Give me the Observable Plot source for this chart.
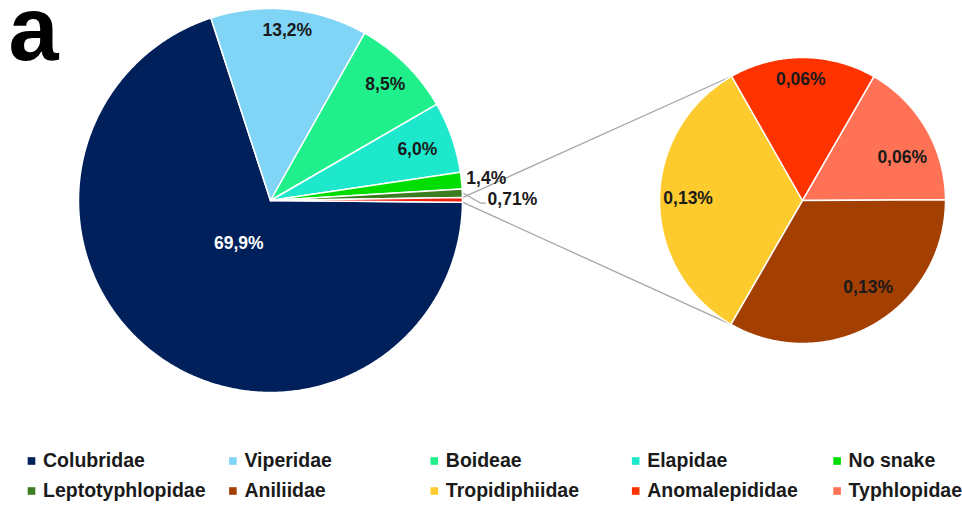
<!DOCTYPE html>
<html><head><meta charset="utf-8">
<script src="https://cdn.jsdelivr.net/npm/d3@7"></script>
<script src="https://cdn.jsdelivr.net/npm/@observablehq/plot@0.6"></script>
<style>body{margin:0;background:#fff;}</style>
</head><body><div id="chart"></div>
<script>
// ---- data ----
const mainNames = ["Colubridae","Viperidae","Boideae","Elapidae","No snake","Leptotyphlopidae","Other"];
const mainValues = [69.9, 13.2, 8.5, 6.0, 1.4, 0.71, 0.38];
const mainLabels = ["69,9%","13,2%","8,5%","6,0%","1,4%","0,71%",""];
const subNames = ["Tropidiphiidae","Anomalepididae","Typhlopidae","Aniliidae"];
const subValues = [0.127, 0.063, 0.063, 0.127];
const subLabels = ["0,13%","0,06%","0,06%","0,13%"];
const legendNames = ["Colubridae","Viperidae","Boideae","Elapidae","No snake",
  "Leptotyphlopidae","Aniliidae","Tropidiphiidae","Anomalepididae","Typhlopidae"];
const colorDomain = ["Colubridae","Viperidae","Boideae","Elapidae","No snake","Leptotyphlopidae",
  "Aniliidae","Tropidiphiidae","Anomalepididae","Typhlopidae","Other"];
const colorRange = ["#00205b","#80d4f6","#20f08c","#1ee8cc","#00dd00","#3c7d22",
  "#a33f00","#fecb2f","#ff3300","#ff7255","#f02010"];

// ---- layout ----
const W = 962, H = 506;
const M = {cx: 270, cy: 200, r: 192, start: 90.5};
const S = {cx: 802, cy: 200, r: 143, start: 210};
const mainLabelLayout = [[0.28,0],[0.89,0],[0.85,0],[0.81,0],[1.13,0],[1.26,1.8],[0,0]];
const subLabelLayout = [[0.80,1],[0.85,-1],[0.76,6.7],[0.76,-7]];
const rad = d => d * Math.PI / 180;
const px = (p, a, r) => p.cx + r * Math.sin(rad(a));
const py = (p, a, r) => p.cy - r * Math.cos(rad(a));

function slices(names, values, p) {
  const total = d3.sum(values);
  let a = p.start;
  return names.map((name, i) => {
    const span = values[i] / total * 360;
    const s = {name, i, a0: a, a1: a + span, mid: a + span / 2};
    a += span;
    return s;
  });
}
function polygons(sl, p) {
  const pts = [];
  for (const s of sl) {
    pts.push({name: s.name, x: p.cx, y: p.cy});
    const n = Math.max(2, Math.ceil((s.a1 - s.a0) / 0.5));
    for (let k = 0; k <= n; k++) {
      const a = s.a0 + (s.a1 - s.a0) * k / n;
      pts.push({name: s.name, x: px(p, a, p.r), y: py(p, a, p.r)});
    }
    pts.push({name: s.name, x: p.cx, y: p.cy});
  }
  return pts;
}
const mainSl = slices(mainNames, mainValues, M);
const subSl = slices(subNames, subValues, S);
const mainPts = polygons(mainSl, M);
const subPts = polygons(subSl, S);

const other = mainSl[6];
const connectors = [
  {x1: px(M, other.a0, M.r), y1: py(M, other.a0, M.r), x2: px(S, subSl[0].a1, S.r), y2: py(S, subSl[0].a1, S.r)},
  {x1: px(M, other.a1, M.r), y1: py(M, other.a1, M.r), x2: px(S, subSl[0].a0, S.r), y2: py(S, subSl[0].a0, S.r)}
];

const labels = [];
mainSl.forEach((s, i) => {
  if (!mainLabels[i]) return;
  const [f, da] = mainLabelLayout[i];
  labels.push({text: mainLabels[i], x: px(M, s.mid + da, M.r * f), y: py(M, s.mid + da, M.r * f),
    fill: i === 0 ? "#ffffff" : "#1a1a1a"});
});
subSl.forEach((s, i) => {
  const [f, da] = subLabelLayout[i];
  labels.push({text: subLabels[i], x: px(S, s.mid + da, S.r * f), y: py(S, s.mid + da, S.r * f), fill: "#1a1a1a"});
});
// leader for the 0,71% label
const lep = mainSl[5];
const lepLab = labels.find(d => d.text === "0,71%");
const leader = [
  {x: px(M, lep.mid, M.r + 1), y: py(M, lep.mid, M.r + 1)},
  {x: lepLab.x - 32, y: lepLab.y + 4},
  {x: lepLab.x - 27, y: lepLab.y + 4}
];

const legX = i => 31 + (i % 5) * 201.4;
const legY = i => 460.5 + Math.floor(i / 5) * 30;
const font = "Liberation Sans, Arial, sans-serif";

const chart = Plot.plot({
  width: W, height: H,
  margin: 0,
  x: {domain: [0, W], range: [0, W], axis: null},
  y: {domain: [0, H], range: [0, H], axis: null},
  color: {domain: colorDomain, range: colorRange},
  style: {background: "#fff", fontFamily: font},
  marks: [
    Plot.link(connectors, {x1: "x1", y1: "y1", x2: "x2", y2: "y2", stroke: "#a6a6a6", strokeWidth: 1.3}),
    Plot.line(leader, {x: "x", y: "y", stroke: "#a6a6a6", strokeWidth: 1.2}),
    Plot.line(mainPts, {x: "x", y: "y", z: "name", fill: "name", stroke: "#fff", strokeWidth: 1.5, strokeLinejoin: "round"}),
    Plot.line(subPts, {x: "x", y: "y", z: "name", fill: "name", stroke: "#fff", strokeWidth: 1.5, strokeLinejoin: "round"}),
    Plot.text(labels, {x: "x", y: "y", text: "text", fill: "fill", fontSize: 17.5, fontWeight: "bold", fontFamily: font}),
    Plot.dot(legendNames, {x: (d, i) => legX(i), y: (d, i) => legY(i), fill: d => d, symbol: "square", r: 4.3}),
    Plot.text(legendNames, {x: (d, i) => legX(i) + 11.5, y: (d, i) => legY(i), text: d => d, textAnchor: "start",
      fill: "#1a1a1a", fontSize: 19.5, fontWeight: "bold", fontFamily: font}),
    Plot.text(["a"], {x: () => 8, y: () => 59, text: d => d, textAnchor: "start", lineAnchor: "bottom",
      fontSize: 90, fontWeight: "bold", fill: "#000", fontFamily: font})
  ]
});
document.getElementById("chart").appendChild(chart);
</script>
</body></html>
